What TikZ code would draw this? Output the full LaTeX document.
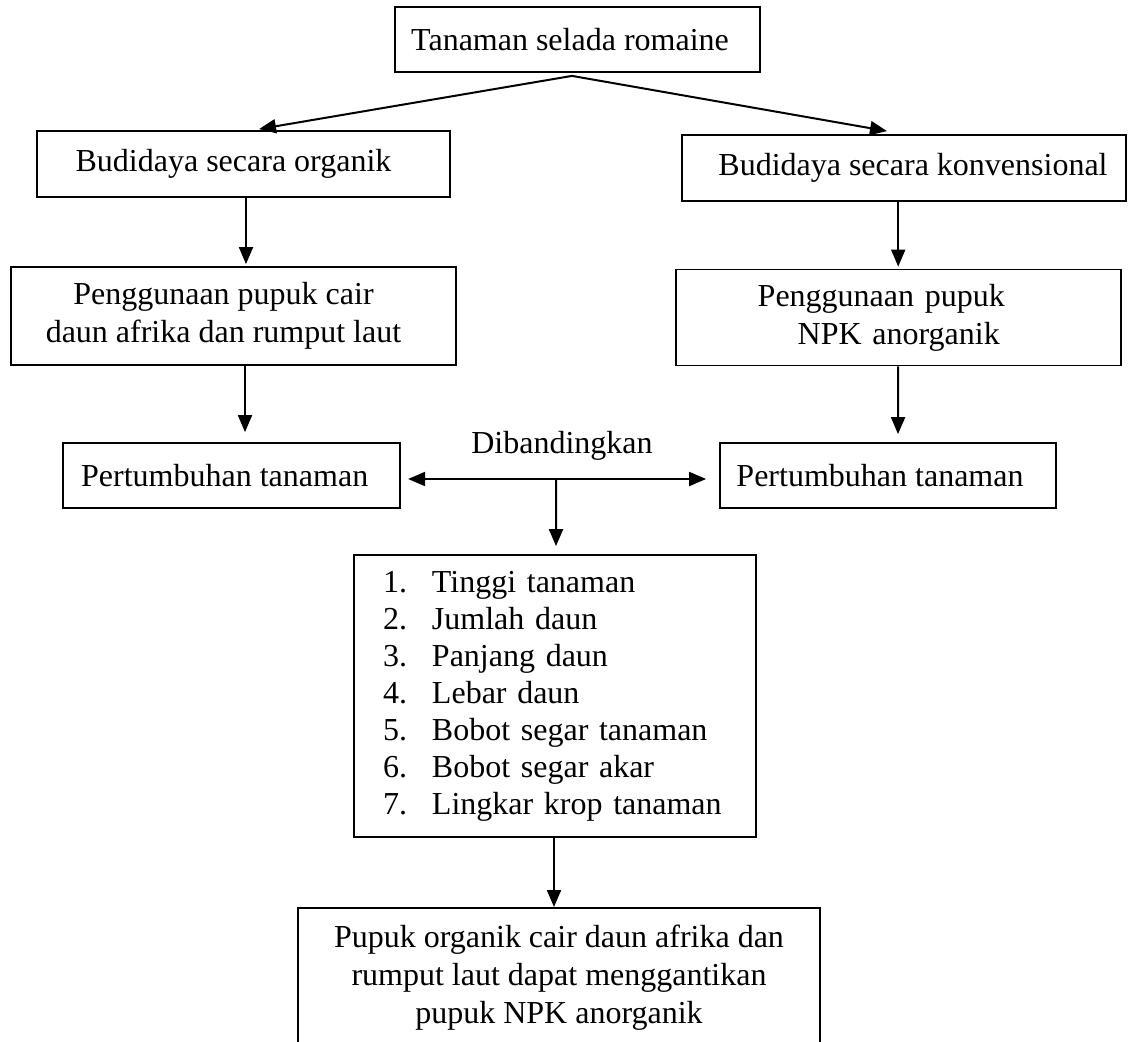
\documentclass[tikz,border=0pt]{standalone}
\usepackage{fontspec}
\setmainfont{Liberation Serif}
\usetikzlibrary{arrows.meta,calc}
\begin{document}
\begin{tikzpicture}[x=1pt,y=-1pt,
  box/.style={draw, line width=1.8pt, inner sep=0pt, font=\fontsize{32}{38}\selectfont},
  lbl/.style={inner sep=0pt, font=\fontsize{32}{38}\selectfont},
  arr/.style={line width=2pt, -{Triangle[length=17pt,width=14pt]}},
  dbl/.style={line width=2pt, {Triangle[length=17pt,width=14pt]}-{Triangle[length=17pt,width=14pt]}},
]
\useasboundingbox (0,0) rectangle (1129,1041);
\fill[white] (0,0) rectangle (1129,1041);

\node[box, minimum width=365pt, minimum height=65pt] (top) at (577.5,39.5) {Tanaman selada romaine\hspace*{15pt}};
\node[box, minimum width=413pt, minimum height=66pt] (org) at (243.5,164) {Budidaya secara organik\hspace*{20pt}};
\node[box, minimum width=444pt, minimum height=66pt] (konv) at (904,168) {\hspace*{18pt}Budidaya secara konvensional};
\node[box, minimum width=445pt, minimum height=98pt, align=center] (pen1) at (233.5,316) {Penggunaan pupuk cair\hspace*{20pt}\\daun afrika dan rumput laut\hspace*{20pt}};
\node[box, minimum width=445pt, minimum height=96pt, text width=281pt, align=left] (pen2) at (898.2,317.5) {Penggunaan pupuk\\\hspace*{40pt}NPK anorganik};
\node[box, minimum width=337pt, minimum height=65pt] (pert1) at (231.7,475.5) {Pertumbuhan tanaman\hspace*{14pt}};
\node[box, minimum width=336pt, minimum height=65pt] (pert2) at (888,475.5) {Pertumbuhan tanaman\hspace*{16pt}};
\node[lbl] (cmp) at (562,446) {Dibandingkan};
\node[box, minimum width=402pt, minimum height=282pt, text width=344pt, align=left, font=\fontsize{32}{37}\selectfont] (list) at (555,696) {%
\makebox[49pt][l]{1.}Tinggi tanaman\\
\makebox[49pt][l]{2.}Jumlah daun\\
\makebox[49pt][l]{3.}Panjang daun\\
\makebox[49pt][l]{4.}Lebar daun\\
\makebox[49pt][l]{5.}Bobot segar tanaman\\
\makebox[49pt][l]{6.}Bobot segar akar\\
\makebox[49pt][l]{7.}Lingkar krop tanaman};
\node[box, anchor=north] (bot) at (559,907) {\begin{minipage}[t][170pt][t]{522pt}\centering\vspace*{17pt}Pupuk organik cair daun afrika dan\\ rumput laut dapat menggantikan\\ pupuk NPK anorganik\end{minipage}};

\draw[arr] ($(top.south)+(-5.5,3)$) -- ($(org.north)+(15.5,-1)$);
\draw[arr] ($(top.south)+(-5.5,3)$) -- ($(konv.north)+(-17,-3)$);
\draw[arr] ($(org.south)+(2.5,0)$) -- ($(pen1.north)+(12.5,-2)$);
\draw[arr] (pen2.north |- konv.south) -- ($(pen2.north)+(0,-2)$);
\draw[arr] ($(pen1.south)+(11.5,0)$) -- ($(pert1.north)+(13.3,-10)$);
\draw[arr] (pen2.south) -- ($(pert2.north)+(10,-8)$);
\draw[dbl] ($(pert1.east)+(7,3.5)$) -- ($(pert2.west)+(-13,3.5)$);
\coordinate (mid) at ($(pert1.east)!0.5!(pert2.west)+(-4,3.5)$);
\draw[arr] (mid) -- ($(list.north)+(1,-8)$);
\draw[arr] ($(list.south)+(-1,0)$) -- ($(bot.north)+(-5,0)$);
\end{tikzpicture}
\end{document}
